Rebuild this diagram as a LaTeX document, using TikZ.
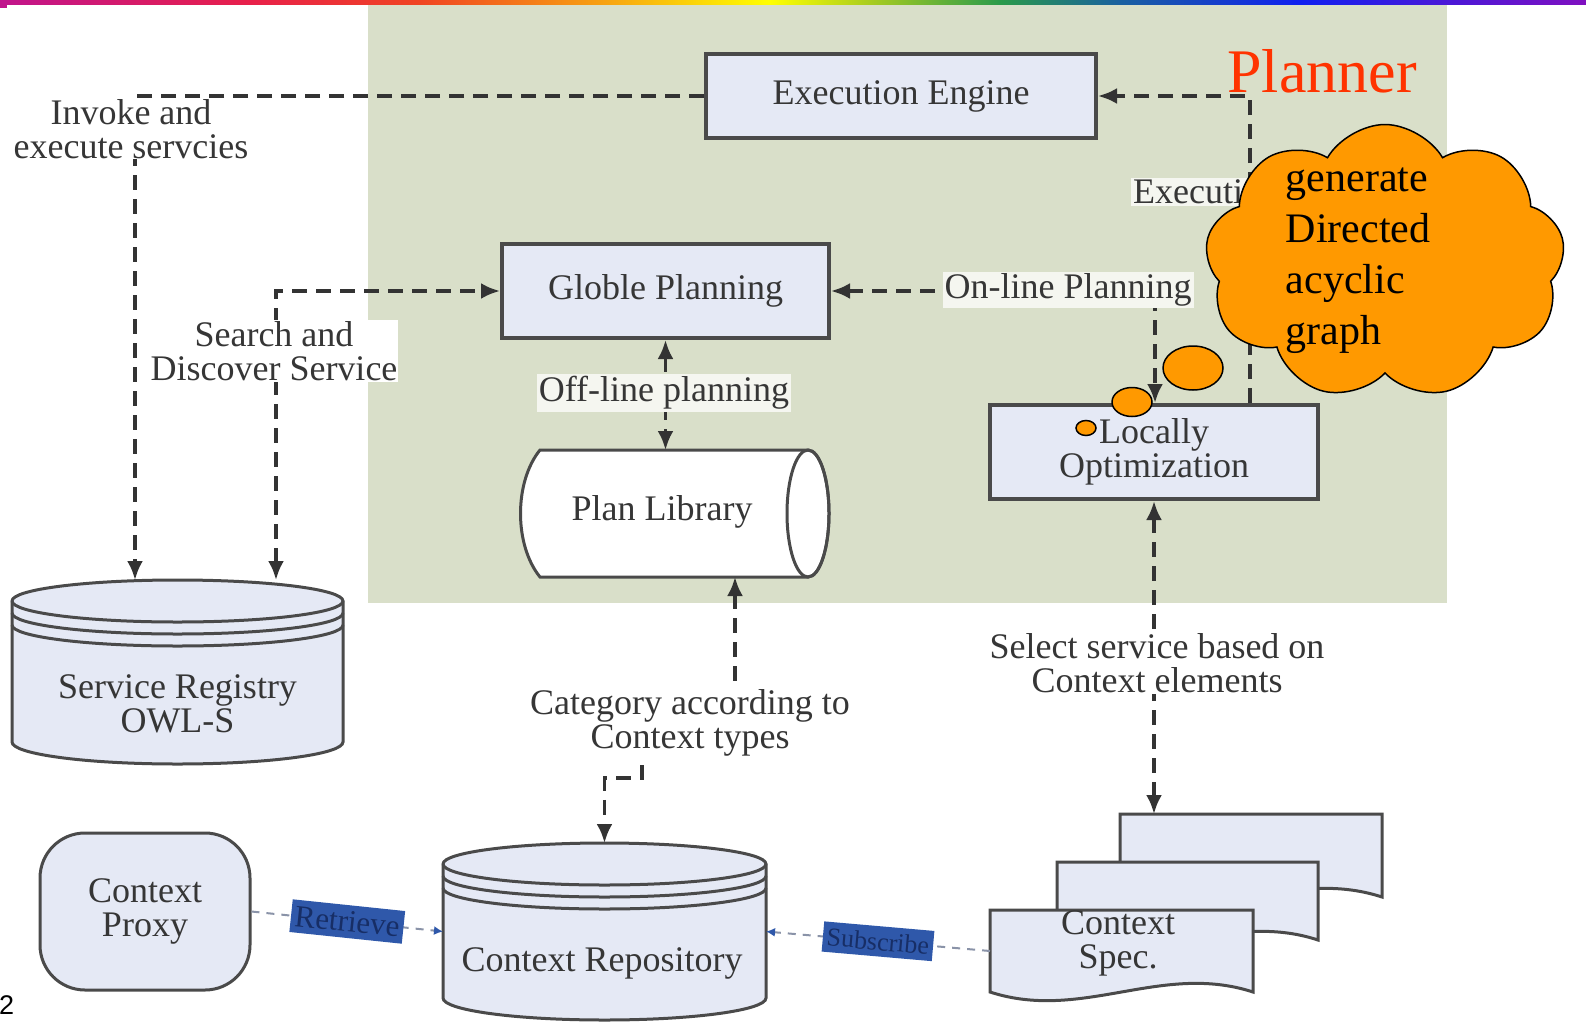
\documentclass[tikz,border=0pt]{standalone}
\usepackage{fontspec}
\setmainfont{Liberation Serif}
\newfontfamily\slidesans{Liberation Sans}
\usetikzlibrary{arrows.meta,calc,shapes.symbols,shapes.geometric}

\definecolor{panel}{HTML}{D9DFC9}
\definecolor{boxfill}{HTML}{E5E9F5}
\definecolor{edge}{HTML}{4A4A4A}
\definecolor{txt}{HTML}{363636}
\definecolor{cloudfill}{HTML}{FF9900}
\definecolor{plannerred}{HTML}{FF3300}
\definecolor{tagblue}{HTML}{2F58AA}
\definecolor{tagtext}{HTML}{172E66}
\definecolor{linkgray}{HTML}{8A93A8}
\definecolor{labelbg}{HTML}{F5F6F0}
% header stripe stops
\definecolor{sA}{RGB}{192,20,140}
\definecolor{sB}{RGB}{232,32,74}
\definecolor{sC}{RGB}{240,68,34}
\definecolor{sD}{RGB}{247,160,18}
\definecolor{sE}{RGB}{255,255,0}
\definecolor{sF}{RGB}{168,204,32}
\definecolor{sG}{RGB}{42,154,74}
\definecolor{sH}{RGB}{26,96,160}
\definecolor{sI}{RGB}{16,32,240}
\definecolor{sJ}{RGB}{128,16,192}

\begin{document}
\begin{tikzpicture}[x=1pt,y=-1pt,
  lbl/.style={font=\fontsize{36}{34}\selectfont, text=txt, align=center},
  box/.style={draw=edge, line width=4pt, fill=boxfill, inner sep=0pt, lbl},
  anchorbox/.style={inner sep=0pt, outer sep=0pt},
  solid3d/.style={draw=edge, line width=3pt, fill=boxfill},
  flow/.style={draw=black!80, line width=3.5pt, dash pattern=on 15pt off 9pt},
  oneway/.style={-{Latex[length=19pt,width=16pt]}},
  twoway/.style={{Latex[length=19pt,width=16pt]}-{Latex[length=19pt,width=16pt]}},
  link/.style={draw=linkgray, line width=2pt, dash pattern=on 8pt off 7pt,
    -{Latex[length=9pt,width=9pt,color=tagblue]}},
  tag/.style={fill=tagblue, text=tagtext, inner xsep=4pt, inner ysep=6pt},
  onpanel/.style={lbl, fill=labelbg, inner sep=2pt},
  offpanel/.style={lbl, fill=white, inner sep=1pt},
  bubble/.style={ellipse, draw=black, fill=cloudfill, line width=1.5pt, inner sep=0pt}
]
\useasboundingbox (0,0) rectangle (1586,1033);
\fill[white] (0,0) rectangle (1586,1033);

% slide header stripe
\shade[left color=sA, right color=sB] (0,0) rectangle (250,5);
\shade[left color=sB, right color=sC] (250,0) rectangle (420,5);
\shade[left color=sC, right color=sD] (420,0) rectangle (600,5);
\shade[left color=sD, right color=sE] (600,0) rectangle (770,5);
\shade[left color=sE, right color=sF] (770,0) rectangle (870,5);
\shade[left color=sF, right color=sG] (870,0) rectangle (1000,5);
\shade[left color=sG, right color=sH] (1000,0) rectangle (1120,5);
\shade[left color=sH, right color=sI] (1120,0) rectangle (1300,5);
\shade[left color=sI, right color=sJ] (1300,0) rectangle (1586,5);
\fill[sA] (0,0) rectangle (7,8);

% planner panel
\fill[panel] (368,5) rectangle (1447,603);

% ---------- components ----------
\node[box, minimum width=390pt, minimum height=84pt] (exe) at (901,96) {Execution Engine};
\node[box, minimum width=327pt, minimum height=94pt] (glob) at (665.5,291) {Globle Planning};
\node[box, minimum width=328pt, minimum height=94pt] (loc) at (1154,452) {Locally\\Optimization};

% plan library (horizontal cylinder)
\node[anchorbox, minimum width=308pt, minimum height=127pt] (plib) at (676,513.5) {};
\draw[draw=edge, line width=3pt, fill=white]
  (540,450) -- (808,450) arc[start angle=-90, end angle=90, x radius=21, y radius=63.5]
  -- (540,577) .. controls (514,545) and (514,482) .. (540,450) -- cycle;
\draw[draw=edge, line width=3pt] (808,513.5) ellipse[x radius=21, y radius=63.5];
\node[lbl] (plibtxt) at (662,512) {Plan Library};

% service registry (disk store)
\node[anchorbox, minimum width=331pt, minimum height=184pt] (reg) at (177.5,672) {};
\draw[solid3d] (12,601) -- (12,742) arc[start angle=180, end angle=0, x radius=165.5, y radius=22]
  -- (343,601) arc[start angle=0, end angle=-180, x radius=165.5, y radius=21] -- cycle;
\draw[draw=edge, line width=3pt] (12,601) arc[start angle=180, end angle=0, x radius=165.5, y radius=21];
\draw[draw=edge, line width=3pt] (12,613) arc[start angle=180, end angle=0, x radius=165.5, y radius=21];
\draw[draw=edge, line width=3pt] (12,625) arc[start angle=180, end angle=0, x radius=165.5, y radius=21];
\node[lbl] (regtxt) at (177.5,704) {Service Registry\\OWL-S};

% context repository (disk store)
\node[anchorbox, minimum width=323pt, minimum height=177pt] (cr) at (604.5,931.5) {};
\draw[solid3d] (443,864) -- (443,998) arc[start angle=180, end angle=0, x radius=161.5, y radius=22]
  -- (766,864) arc[start angle=0, end angle=-180, x radius=161.5, y radius=21] -- cycle;
\draw[draw=edge, line width=3pt] (443,864) arc[start angle=180, end angle=0, x radius=161.5, y radius=21];
\draw[draw=edge, line width=3pt] (443,876) arc[start angle=180, end angle=0, x radius=161.5, y radius=21];
\draw[draw=edge, line width=3pt] (443,888) arc[start angle=180, end angle=0, x radius=161.5, y radius=21];
\node[lbl] (crtxt) at (602,963) {Context Repository};

% context proxy
\node[box, line width=3pt, rounded corners=45pt, minimum width=210pt, minimum height=157pt] (proxy) at (145,911.5) {Context\\Proxy};

% context specification stack
\node[anchorbox, minimum width=262pt, minimum height=83pt] (back) at (1251,855.5) {};
\node[anchorbox, minimum width=261pt, minimum height=78pt] (mid) at (1187.5,901) {};
\node[anchorbox, minimum width=263pt, minimum height=82pt] (spec) at (1121.5,951) {};
\draw[solid3d] (1120,814) -- (1382,814) -- (1382,897)
  .. controls (1290,867) and (1212,927) .. (1120,897) -- cycle;
\draw[solid3d] (1057,862) -- (1318,862) -- (1318,940)
  .. controls (1227,910) and (1148,970) .. (1057,940) -- cycle;
\draw[solid3d] (990,910) -- (1253,910) -- (1253,992)
  .. controls (1161,962) and (1082,1022) .. (990,992) -- cycle;
\node[lbl] (spectxt) at (1118,943) {Context\\Spec.};

% ---------- connectors ----------
\draw[flow, oneway] (exe.west) -- (135,96) -- ($(reg.north)+(-42.5,0)$);
\draw[flow, twoway] ($(reg.north)+(98.5,0)$) -- (276,291) -- (glob.west);
\draw[flow, oneway] ($(loc.north)+(96,0)$) -- (1250,96) -- (exe.east);
\draw[flow, twoway] (glob.east) -- (1155,291) -- ($(loc.north)+(1,0)$);
\draw[flow, twoway] (glob.south) -- (glob.south |- plib.north);
\draw[flow, twoway] ($(plib.south)+(59,0)$) -- (735,720) -- (642,720) -- (642,778)
  -- (604.5,778) -- (cr.north);
\draw[flow, twoway] (loc.south) -- (loc.south |- back.north);

\draw[link] (proxy.east) -- node[tag, sloped, font=\fontsize{31}{31}\selectfont] (retr) {Retrieve} (cr.west);
\draw[link] (spec.west) -- node[tag, sloped, font=\fontsize{26}{26}\selectfont] (subs) {Subscribe} (cr.east);

% ---------- connector labels ----------
\node[offpanel, anchor=north, inner sep=0pt] (invlbl) at (131,99) {Invoke and\\execute servcies};
\node[offpanel] (searchlbl) at (274,351) {Search and\\Discover Service};
\node[onpanel] (offlbl) at (664,393) {Off-line planning};
\node[onpanel] (onlbl) at (1068,290) {On-line Planning};
\node[onpanel, anchor=west] (execlbl) at (1131,192) {Execution};
\node[offpanel] (selectlbl) at (1157,663) {Select service based on\\Context elements};
\node[offpanel] (catlbl) at (690,723) {Category according to\\Context types};

% ---------- planner annotation ----------
\node[font=\fontsize{62}{62}\selectfont, text=plannerred, inner sep=0pt] (title) at (1322,71) {Planner};
\node[cloud, draw=black, fill=cloudfill, line width=1.5pt, cloud puffs=9, cloud puff arc=120,
  aspect=1.3, minimum width=360pt, minimum height=275pt, inner sep=0pt] (dag) at (1385,262) {};
\node[font=\fontsize{42}{51}\selectfont, align=left, text=black] (dagtxt) at (1358,261)
  {generate\\Directed\\acyclic\\graph};
\node[bubble, minimum width=60pt, minimum height=44pt] (b1) at (1193,368) {};
\node[bubble, minimum width=40pt, minimum height=29pt] (b2) at (1132,402) {};
\node[bubble, minimum width=20pt, minimum height=15pt] (b3) at (1086,428) {};

% slide number
\node[font=\slidesans\fontsize{27}{27}\selectfont, anchor=west, inner sep=0pt] (pg) at (-1,1005) {2};
\end{tikzpicture}
\end{document}
